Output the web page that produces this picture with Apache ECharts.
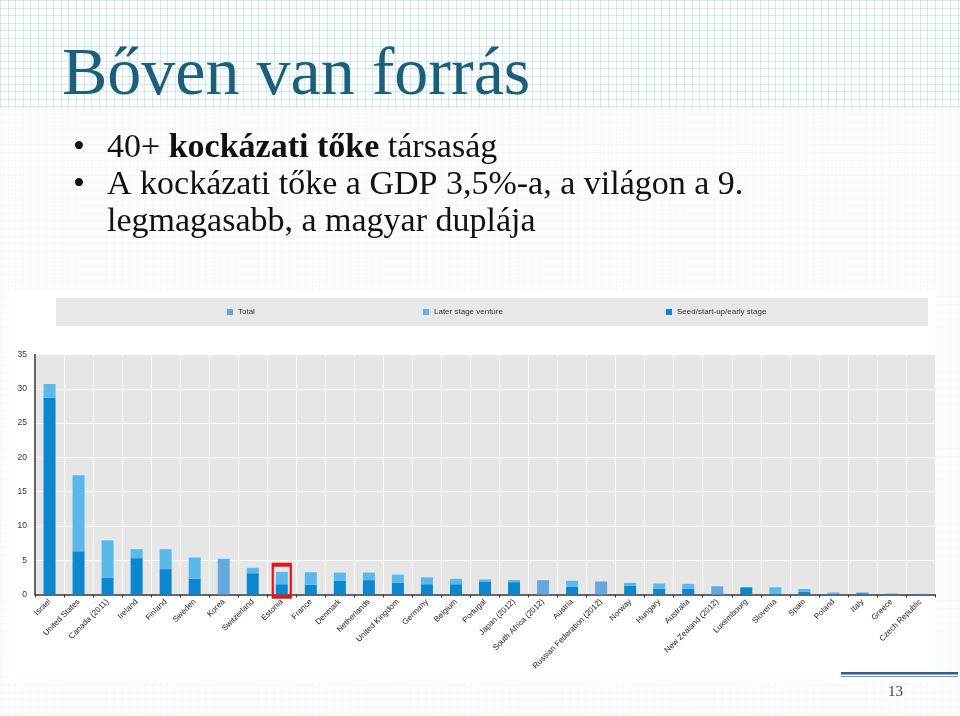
<!DOCTYPE html>
<html>
<head>
<meta charset="utf-8">
<script src="https://cdn.jsdelivr.net/npm/echarts@6/dist/echarts.min.js"></script>
<style>
html,body{margin:0;padding:0;width:960px;height:716px;overflow:hidden;}
body{
  background-color:#fdfefe;
  background-image:
    repeating-linear-gradient(to right, rgba(205,220,225,0.18) 0 1px, transparent 1px 7.6px),
    repeating-linear-gradient(to bottom, rgba(205,220,225,0.18) 0 1px, transparent 1px 7.6px);
}
#band{position:absolute;left:0;top:0;width:960px;height:107px;
  background-image:
    repeating-linear-gradient(to right, rgba(160,205,218,0.38) 0 1px, transparent 1px 7.6px),
    repeating-linear-gradient(to bottom, rgba(160,205,218,0.38) 0 1px, transparent 1px 7.6px);
}
#main{position:absolute;left:0;top:0;width:960px;height:716px;}
</style>
</head>
<body>
<div id="band"></div>
<div id="main"></div>
<script>
const countries = ['Israel','United States','Canada (2011)','Ireland','Finland','Sweden','Korea','Switzerland','Estonia','France','Denmark','Netherlands','United Kingdom','Germany','Belgium','Portugal','Japan (2012)','South Africa (2012)','Austria','Russian Federation (2012)','Norway','Hungary','Australia','New Zealand (2012)','Luxembourg','Slovenia','Spain','Poland','Italy','Greece','Czech Republic'];
const seedValues  = [28.7,6.3,2.4,5.3,3.7,2.3,null,3.1,1.5,1.45,2.0,2.1,1.7,1.5,1.5,1.9,1.8,null,1.1,null,1.3,0.85,0.85,null,1.05,0.08,0.4,0.12,0.2,0.06,0.05];
const laterValues = [2.0,11.1,5.5,1.3,2.9,3.1,null,0.8,1.8,1.8,1.2,1.1,1.2,1.0,0.8,0.3,0.3,null,0.9,null,0.4,0.75,0.7,null,null,0.97,0.4,0.18,0.1,0.09,0.05];
const totalOnlyValues = [null,null,null,null,null,null,5.2,null,null,null,null,null,null,null,null,null,null,2.1,null,1.9,null,null,null,1.2,null,null,null,null,null,null,null];
const yTicks = {min:0, max:35, interval:5};
const highlight = {country:'Estonia', value:2.0};

const titleText = 'Bőven van forrás';
const pageNumber = '13';

const chart = echarts.init(document.getElementById('main'), null, {renderer:'canvas'});
const serif = '"Liberation Serif", "Times New Roman", serif';
const sans = '"Liberation Sans", Arial, sans-serif';
const cSeed = '#0a87cf', cLater = '#5ab8ea', cTotal = '#65a8dd';
const legText = {fontSize:8, fontFamily:sans, color:'#333'};

const option = {
  backgroundColor:'transparent',
  animation:false,
  graphic:[
    {type:'rect', z:-10, shape:{x:7,y:290,width:930,height:392}, style:{fill:'#ffffff'}},
    {type:'rect', z:-9, shape:{x:56,y:298,width:872,height:28}, style:{fill:'#e8e8e8'}},
    {type:'text', left:62, top:42, style:{text:titleText, font:'68px '+serif, fill:'#1c5f7b'}},
    {type:'text', left:73, top:131, style:{text:'•', font:'34px '+serif, fill:'#111'}},
    {type:'text', left:73, top:168, style:{text:'•', font:'34px '+serif, fill:'#111'}},
    {type:'text', left:107, top:131, style:{
      text:'{n|40+ }{b|kockázati tőke}{n| társaság}',
      rich:{n:{font:'34px '+serif, fill:'#111'}, b:{font:'bold 34px '+serif, fill:'#111'}}}},
    {type:'text', left:107, top:168, style:{text:'A kockázati tőke a GDP 3,5%-a, a világon a 9.', font:'34px '+serif, fill:'#111'}},
    {type:'text', left:107, top:205, style:{text:'legmagasabb, a magyar duplája', font:'34px '+serif, fill:'#111'}},
    {type:'rect', shape:{x:841,y:672,width:117,height:2.5}, style:{fill:'#2f5f8f'}},
    {type:'rect', shape:{x:841,y:676,width:117,height:1}, style:{fill:'#6f9cc6'}},
    {type:'text', left:888, top:685, style:{text:pageNumber, font:'15px '+serif, fill:'#2b4a5c'}}
  ],
  legend:[
    {data:['Total'], left:222, top:303, itemWidth:6, itemHeight:6, icon:'rect', textStyle:legText},
    {data:['Later stage venture'], left:418, top:303, itemWidth:6, itemHeight:6, icon:'rect', textStyle:legText},
    {data:['Seed/start-up/early stage'], left:661, top:303, itemWidth:6, itemHeight:6, icon:'rect', textStyle:legText}
  ],
  grid:{left:35, right:25, top:354.5, bottom:121.5, show:true, backgroundColor:'#e6e6e6', borderWidth:0, containLabel:false},
  xAxis:{
    type:'category', data:countries,
    axisLine:{show:true, lineStyle:{color:'#333', width:1.5}},
    axisTick:{show:true, alignWithLabel:false, length:3, lineStyle:{color:'#333'}},
    splitLine:{show:true, lineStyle:{color:'#ffffff', width:1}},
    axisLabel:{rotate:45, fontSize:8, fontFamily:sans, color:'#1a1a1a', margin:6, interval:0}
  },
  yAxis:{
    type:'value', min:yTicks.min, max:yTicks.max, interval:yTicks.interval,
    axisLine:{show:true, lineStyle:{color:'#333', width:1.5}},
    axisTick:{show:false},
    splitLine:{show:true, lineStyle:{color:'#ffffff', width:1}},
    axisLabel:{fontSize:8.5, fontFamily:sans, color:'#333', margin:8}
  },
  series:[
    {name:'Seed/start-up/early stage', type:'bar', stack:'a', data:seedValues, barWidth:12, itemStyle:{color:cSeed},
     markPoint:{symbol:'rect', symbolSize:[18,32], silent:true, label:{show:false},
       itemStyle:{color:'rgba(0,0,0,0)', borderColor:'#e3161b', borderWidth:3},
       data:[{coord:[highlight.country, highlight.value]}]}},
    {name:'Later stage venture', type:'bar', stack:'a', data:laterValues, barWidth:12, itemStyle:{color:cLater}},
    {name:'Total', type:'bar', stack:'a', data:totalOnlyValues, barWidth:12, itemStyle:{color:cTotal}}
  ]
};
chart.setOption(option);
</script>
</body>
</html>
